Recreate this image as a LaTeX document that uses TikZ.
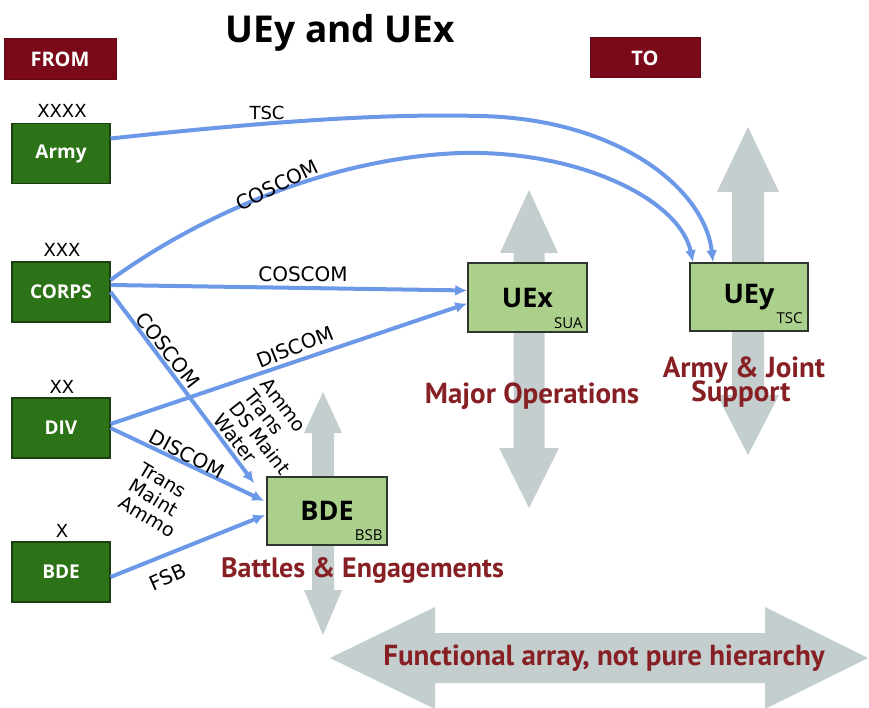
\documentclass[tikz,border=0pt]{standalone}
\usepackage{fontspec}
\setmainfont{DejaVu Sans}
\newfontfamily\osans{Open Sans}
\newfontfamily\ptsans{PT Sans}
\usetikzlibrary{arrows.meta,calc}
\definecolor{garrowc}{RGB}{196,206,206}
\definecolor{blu}{RGB}{108,152,232}
\definecolor{dkgreen}{RGB}{44,114,22}
\definecolor{dkgreenb}{RGB}{28,62,16}
\definecolor{ltgreen}{RGB}{170,208,140}
\definecolor{boxb}{RGB}{45,55,45}
\definecolor{maroon}{RGB}{122,10,25}
\definecolor{redtxt}{RGB}{135,32,36}
\begin{document}
\begin{tikzpicture}[x=1pt,y=-1pt,
  hdrbox/.style={fill=maroon, draw=maroon!80!black, line width=1pt, minimum width=112pt, minimum height=41pt, text=white, font=\osans\bfseries\fontsize{20}{20}\selectfont, inner sep=0},
  unitbox/.style={fill=dkgreen, draw=dkgreenb, line width=1.2pt, minimum width=98pt, minimum height=60pt, text=white, font=\osans\bfseries\fontsize{19}{19}\selectfont, inner sep=0},
  uebox/.style={fill=ltgreen, draw=boxb, line width=1.5pt, minimum width=119pt, minimum height=69pt, font=\osans\bfseries\fontsize{27}{27}\selectfont, inner sep=0},
  echelon/.style={font=\fontsize{18}{18}\selectfont, anchor=base, inner sep=0},
  conn/.style={draw=blu, line width=4pt, -{Latex[length=12pt,width=11pt]}},
  lbl/.style={font=\fontsize{20}{20}\selectfont, inner sep=0},
  stack/.style={font=\fontsize{19}{19.5}\selectfont, inner sep=0, align=left, anchor=north west},
  redlbl/.style={text=redtxt, font=\ptsans\bfseries\fontsize{29}{25}\selectfont, anchor=base, inner sep=0},
  subl/.style={font=\osans\fontsize{15}{15}\selectfont, anchor=base east, inner sep=0},
  garrow/.style={fill=garrowc}
]
\useasboundingbox (0,0) rectangle (869,708);
\clip (0,0) rectangle (869,708);

% grey double arrows
\fill[garrow] (529,190) -- (558,253) -- (544.5,253) -- (544.5,448) -- (559,448) -- (529,508) -- (499,448) -- (513.5,448) -- (513.5,253) -- (500,253) -- cycle;
\fill[garrow] (748,127) -- (779,192) -- (764,192) -- (764,395) -- (779,395) -- (748,455) -- (717,395) -- (732,395) -- (732,192) -- (717,192) -- cycle;
\fill[garrow] (323,392) -- (342,433) -- (334,433) -- (334,590) -- (342,590) -- (323,635) -- (304,590) -- (312,590) -- (312,433) -- (304,433) -- cycle;
\fill[garrow] (330,658) -- (435,607) -- (435,633) -- (765,633) -- (765,607) -- (868,658) -- (765,709) -- (765,683) -- (435,683) -- (435,709) -- cycle;

% title and headers
\node[font=\osans\bfseries\fontsize{37}{37}\selectfont, anchor=base, inner sep=0] (title) at (340.5,43) {UEy and UEx};
\node[hdrbox] (from) at (60,59.5) {FROM};
\node[hdrbox, minimum width=110pt, minimum height=40pt] (to) at (645,58) {TO};

% source units
\node[unitbox] (army) at (61,153.5) {Army};
\node[unitbox] (corps) at (61,292) {CORPS};
\node[unitbox] (div) at (61,428) {DIV};
\node[unitbox] (bdes) at (61,572) {BDE};
\node[echelon] (e4) at (62,118) {XXXX};
\node[echelon] (e3) at (62,257) {XXX};
\node[echelon] (e2) at (62,393) {XX};
\node[echelon] (e1) at (62,537) {X};

% target units
\node[uebox] (uex) at (527.5,297.5) {UEx};
\node[uebox, minimum width=118pt, minimum height=68pt] (uey) at (749,297) {UEy};
\node[uebox, minimum width=120pt, minimum height=68pt] (bde) at (327,511) {BDE};
\node[subl] (sua) at ($(uex.south east)+(-5,-4)$) {SUA};
\node[subl] (tsc) at ($(uey.south east)+(-6,-8)$) {TSC};
\node[subl] (bsb) at ($(bde.south east)+(-5,-5)$) {BSB};

% connectors
\draw[conn] ($(army.east)+(0,-15)$) .. controls (300,118) and (400,114) .. (480,116) .. controls (620,119) and (705,190) .. ($(uey.north)+(-36,0)$);
\draw[conn] ($(corps.east)+(0,-12)$) .. controls (200,215) and (330,158) .. (460,153) .. controls (580,150) and (680,200) .. ($(uey.north)+(-56,0)$);
\draw[conn] ($(corps.east)+(0,-7)$) -- ($(uex.west)+(0,-7)$);
\coordinate (bdetop) at ($(bde.north west)+(-12,7)$);
\draw[conn] ($(corps.east)+(0,0)$) -- (bdetop);
\draw[conn] ($(div.east)+(0,-4)$) -- ($(uex.west)+(0,6)$);
\draw[conn] ($(div.east)+(0,0)$) -- ($(bde.west)+(-2,-10)$);
\draw[conn] ($(bdes.east)+(0,5)$) -- ($(bde.west)+(-1,4)$);

% connector labels
\node[lbl, font=\fontsize{18}{18}\selectfont, anchor=base] (ltsc) at (267,120) {TSC};
\node[lbl, rotate=26] (lcos1) at (277,185) {COSCOM};
\node[lbl, anchor=base] (lcos2) at (303,282) {COSCOM};
\node[lbl, rotate=-52] (lcos3) at (168,350) {COSCOM};
\node[lbl, rotate=22] (ldis1) at (295,347) {DISCOM};
\node[lbl, rotate=-28] (ldis2) at (187,454) {DISCOM};
\node[stack, rotate=-52] (lammo) at (270,376) {Ammo\\Trans\\DS Maint\\Water};
\node[stack, rotate=-31] (ltrans) at (145,461) {Trans\\Maint\\Ammo};
\node[lbl, rotate=24] (lfsb) at (168,577) {FSB};

% red captions
\node[redlbl] (major) at (532,403) {Major Operations};
\node[redlbl] (ajs1) at (744,377) {Army \& Joint};
\node[redlbl] (ajs2) at (741,401) {Support};
\node[redlbl, font=\ptsans\bfseries\fontsize{28}{25}\selectfont] (battles) at (362.5,577) {Battles \& Engagements};
\node[redlbl] (func) at (604,665) {Functional array, not pure hierarchy};
\end{tikzpicture}
\end{document}
